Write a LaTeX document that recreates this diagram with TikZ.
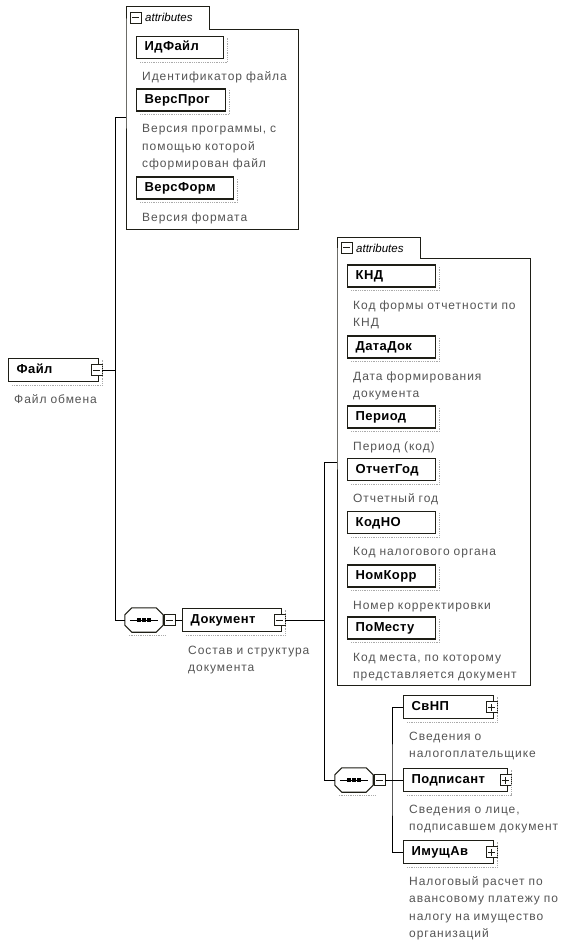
\documentclass[tikz,border=0pt]{standalone}
\usepackage{fontspec}
\setmainfont{Liberation Sans}
\newfontfamily\descfont[LetterSpace=8]{Liberation Sans}
\newfontfamily\labfont[LetterSpace=3]{Liberation Sans}
\definecolor{desccol}{RGB}{85,85,85}
\definecolor{framecol}{RGB}{30,30,22}
\definecolor{shdcol}{RGB}{170,170,170}
\tikzset{
  elem/.style={draw=framecol, line width=1.4pt, fill=white, anchor=west,
    minimum height=23pt, inner xsep=8pt, inner ysep=0pt, text width=#1-16pt, align=left,
    font=\labfont\bfseries\fontsize{13}{15}\selectfont, text height=9.5pt, text depth=2.5pt},
  attrbox/.style={elem=#1, minimum height=22pt},
  dsc/.style={anchor=base west, inner sep=0pt, text=desccol, text width=220pt, align=left,
    font=\descfont\fontsize{12}{17.5}\selectfont},
  wire/.style={draw=black, line width=0.9pt},
  grp/.style={draw=framecol, line width=1pt},
  shd/.style={draw=shdcol, line width=0.8pt, densely dotted},
  expbox/.style={draw=framecol, fill=white, line width=0.8pt, minimum size=11pt, inner sep=0pt, rectangle},
  expminus/.style={expbox, path picture={\draw[line width=0.8pt] ([xshift=2pt]path picture bounding box.west) -- ([xshift=-2pt]path picture bounding box.east);}},
  expplus/.style={expbox, path picture={\draw[line width=0.8pt] ([xshift=2pt]path picture bounding box.west) -- ([xshift=-2pt]path picture bounding box.east) ([yshift=2pt]path picture bounding box.south) -- ([yshift=-2pt]path picture bounding box.north);}},
  seqnode/.style={minimum width=38pt, minimum height=24pt, inner sep=0pt},
  tabtext/.style={anchor=base west, inner sep=0pt, font=\itshape\fontsize{11.5}{13}\selectfont},
}
\newcommand\seqdraw[1]{%
  \draw[shd] ([shift={(4pt,-3pt)}]#1.south west) -- ([shift={(3pt,-3pt)}]#1.south east);
  \draw[grp, line width=1.1pt, fill=white] ([xshift=7pt]#1.north west) -- ([xshift=-7pt]#1.north east) -- ([yshift=-7pt]#1.north east) -- ([yshift=7pt]#1.south east) -- ([xshift=-7pt]#1.south east) -- ([xshift=7pt]#1.south west) -- ([yshift=7pt]#1.south west) -- ([yshift=-7pt]#1.north west) -- cycle;
  \draw[line width=0.9pt] ([xshift=5pt]#1.west) -- ([xshift=-5pt]#1.east);
  \foreach \dx in {-5,0,5} \fill ([xshift=\dx pt]#1.center) +(-1.6pt,-1.6pt) rectangle +(1.6pt,1.6pt);
}
\begin{document}
\begin{tikzpicture}[x=1pt,y=-1pt]
\fill[white] (0,0) rectangle (575,944);
\useasboundingbox (0,0) rectangle (575,944);

% ---------- attribute group 1 ----------
\draw[grp] (126,30) -- (126,7) -- (209,7) -- (209,30) -- (298,30) -- (298,229) -- (126,229) -- cycle;
\node[expminus] (t1exp) at (135.5,17.5) {};
\node[tabtext] (t1txt) at (145,22) {attributes};
\coordinate (g1in) at (126,117);
\coordinate (v1top) at (115,117);

\node[attrbox=87pt] (idf) at (136,47.5) {ИдФайл};
\node[dsc] (idfd) at (142,80.5) {Идентификатор файла};
\node[attrbox=89pt] (vprog) at (136,100) {ВерсПрог};
\node[dsc] (vprogd) at (142,133) {Версия программы, с\\помощью которой\\сформирован файл};
\node[attrbox=97pt] (vform) at (136,188) {ВерсФорм};
\node[dsc] (vformd) at (142,221) {Версия формата};

% ---------- root ----------
\node[elem=90pt] (file) at (8,370) {Файл};
\node[dsc] (filed) at (14,403) {Файл обмена};
\node[expminus] (fileexp) at ([xshift=-3pt]file.east) {};

% ---------- sequence 1 and Документ ----------
\node[seqnode] (seq1) at (144,620) {};
\node[expminus] (seq1exp) at (169.5,620) {};
\node[elem=99pt] (doc) at (182,620) {Документ};
\node[dsc] (docd) at (188,654) {Состав и структура\\документа};
\node[expminus] (docexp) at ([xshift=-3pt]doc.east) {};

% ---------- attribute group 2 ----------
\draw[grp] (337,258) -- (337,237) -- (420,237) -- (420,258) -- (530,258) -- (530,685) -- (337,685) -- cycle;
\node[expminus] (t2exp) at (346.5,247.5) {};
\node[tabtext] (t2txt) at (356,252) {attributes};
\coordinate (g2in) at (337,462);
\coordinate (v2top) at (324,462);

\node[attrbox=88pt] (knd) at (347,276) {КНД};
\node[dsc] (kndd) at (353,309) {Код формы отчетности по\\КНД};
\node[attrbox=88pt] (datadok) at (347,347) {ДатаДок};
\node[dsc] (datadokd) at (353,380) {Дата формирования\\документа};
\node[attrbox=88pt] (period) at (347,417) {Период};
\node[dsc] (periodd) at (353,450) {Период (код)};
\node[attrbox=88pt] (otchet) at (347,469.5) {ОтчетГод};
\node[dsc] (otchetd) at (353,502.5) {Отчетный год};
\node[attrbox=88pt] (kodno) at (347,522.5) {КодНО};
\node[dsc] (kodnod) at (353,555.5) {Код налогового органа};
\node[attrbox=88pt] (nomkorr) at (347,576) {НомКорр};
\node[dsc] (nomkorrd) at (353,609) {Номер корректировки};
\node[attrbox=88pt] (pomestu) at (347,628) {ПоМесту};
\node[dsc] (pomestud) at (353,661) {Код места, по которому\\представляется документ};

% ---------- sequence 2 and children ----------
\node[seqnode] (seq2) at (354,780) {};
\node[expminus] (seq2exp) at (379.5,780) {};
\coordinate (br) at (392,780);
\node[elem=90pt] (svnp) at (403,707) {СвНП};
\node[dsc] (svnpd) at (409,740) {Сведения о\\налогоплательщике};
\node[expplus] (svnpexp) at ([xshift=-3pt]svnp.east) {};
\node[elem=104pt] (podp) at (403,780) {Подписант};
\node[dsc] (podpd) at (409,813) {Сведения о лице,\\подписавшем документ};
\node[expplus] (podpexp) at ([xshift=-3pt]podp.east) {};
\node[elem=90pt] (imus) at (403,852) {ИмущАв};
\node[dsc] (imusd) at (409,885) {Налоговый расчет по\\авансовому платежу по\\налогу на имущество\\организаций};
\node[expplus] (imusexp) at ([xshift=-3pt]imus.east) {};

% ---------- shadows ----------
\foreach \n in {idf,vprog,vform,file,doc,knd,datadok,period,otchet,kodno,nomkorr,pomestu,svnp,podp,imus}
  \draw[shd] ([shift={(4pt,-3pt)}]\n.south west) -- ([shift={(3pt,-3pt)}]\n.south east) -- ([shift={(3pt,-2pt)}]\n.north east);

% ---------- sequence shapes ----------
\seqdraw{seq1}
\seqdraw{seq2}
\node[expminus] at (seq1exp) {};
\node[expminus] at (seq2exp) {};

% ---------- connectors ----------
\draw[wire] (fileexp.east) -- (fileexp.east -| v1top);
\draw[wire] (g1in) -- (v1top) |- (seq1.west);
\draw[wire] (seq1exp.east) -- (doc.west);
\draw[wire] (docexp.east) -- (docexp.east -| v2top);
\draw[wire] (g2in) -- (v2top) |- (seq2.west);
\draw[wire] (seq2exp.east) -- (podp.west);
\draw[wire] (svnp.west) -| (br) |- (imus.west);
\end{tikzpicture}
\end{document}
